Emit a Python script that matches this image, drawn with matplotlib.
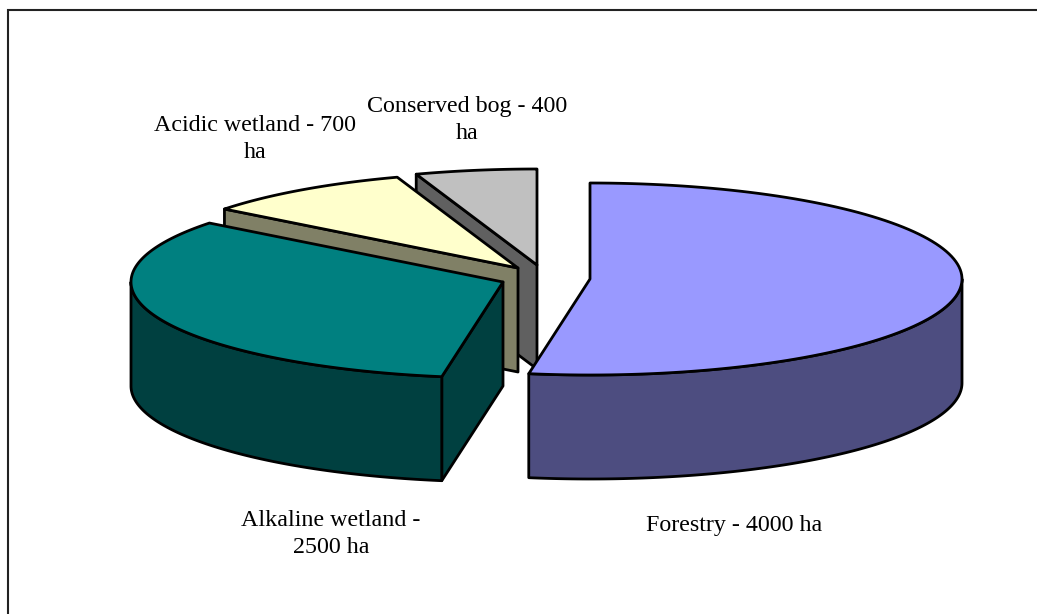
import matplotlib
matplotlib.use("Agg")
import matplotlib.pyplot as plt
import numpy as np

# land use areas in hectares, clockwise from 12 o'clock
categories = ["Forestry", "Alkaline wetland", "Acidic wetland", "Conserved bog"]
areas = [4000, 2500, 700, 400]
labels = ["Forestry - 4000 ha", "Alkaline wetland -\n2500 ha", "Acidic wetland - 700\nha", "Conserved bog - 400\nha"]

top_colors = ["#9999FF", "#008080", "#FFFFCC", "#C0C0C0"]
side_colors = ["#4D4D80", "#004040", "#808066", "#606060"]

# pixel layout of the exploded slices
centers = [(590, 279), (503, 282), (518, 268), (537, 265)]
label_pos = [(734.5, 525), (331, 534), (255, 139), (467, 120)]
rx = 372
ry = 96
depth = 104
lw = 2.0


def rim(cx, cy, a0, a1):
    a = np.radians(np.linspace(a0, a1, 120))
    return cx + rx * np.sin(a), cy - ry * np.cos(a)


def poly(ax, x, y, color):
    ax.fill(x, y, facecolor=color, edgecolor="black", linewidth=lw, joinstyle="round")


fig = plt.figure(figsize=(10.37, 6.14), dpi=100)
ax = fig.add_axes([0, 0, 1, 1])
ax.set_xlim(0, 1037)
ax.set_ylim(614, 0)
ax.axis("off")

# chart frame runs off the right and bottom edges
ax.plot([8, 8, 1037], [614, 10, 10], color="#222222", lw=1.5, solid_joinstyle="miter")

edges = np.concatenate([[0], np.cumsum(areas)]) / sum(areas) * 360

# back to front so nearer slices cover the walls behind them
for i in [3, 2, 1, 0]:
    cx, cy = centers[i]
    a0, a1 = edges[i], edges[i + 1]

    # flat wall along the leading cut, hidden on the right hand slice
    if a0 > 180:
        ex, ey = rim(cx, cy, a0, a0)
        poly(ax, [cx, ex[0], ex[0], cx], [cy, ey[0], ey[0] + depth, cy + depth], side_colors[i])

    # outer wall, only the part of the rim facing the viewer
    s0, s1 = max(a0, 90), min(a1, 270)
    if s0 < s1:
        sx, sy = rim(cx, cy, s0, s1)
        poly(ax, np.concatenate([sx, sx[::-1]]), np.concatenate([sy, sy[::-1] + depth]), side_colors[i])

    # top face
    tx, ty = rim(cx, cy, a0, a1)
    poly(ax, np.concatenate([[cx], tx]), np.concatenate([[cy], ty]), top_colors[i])

for text, (x, y) in zip(labels, label_pos):
    ax.text(x, y, text, family="Liberation Serif", fontsize=17.3, ha="center", va="center",
            linespacing=1.39, color="black")

fig.savefig("out.png", dpi=100)
